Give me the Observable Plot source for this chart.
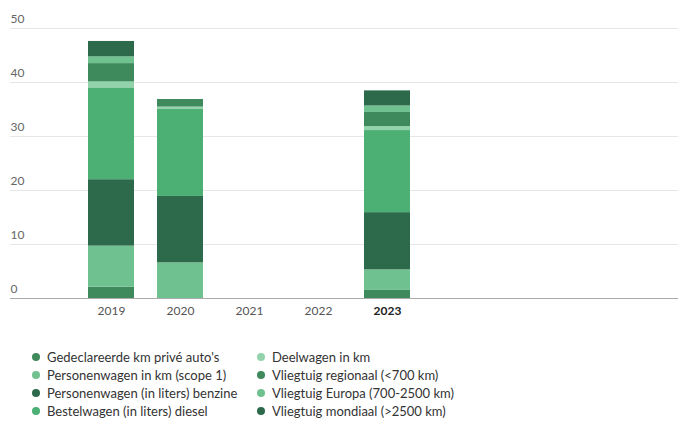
<!DOCTYPE html>
<html>
<head>
<meta charset="utf-8">
<script src="https://cdn.jsdelivr.net/npm/d3@7"></script>
<script src="https://cdn.jsdelivr.net/npm/@observablehq/plot@0.6"></script>
<style>
  body { margin: 0; background: #fff; font-family: "Lato", "Noto Sans", sans-serif; }
  #legend { display: grid; grid-template-columns: 225px 225px; grid-auto-flow: column; grid-template-rows: repeat(4, 18px); margin: 13px 0 0 32px; font-size: 13px; color: #333; }
  .item { display: flex; align-items: center; white-space: nowrap; }
  .dot { width: 8px; height: 8px; border-radius: 50%; margin-right: 7px; flex: none; }
</style>
</head>
<body>
<div id="chart"></div>
<div id="legend"></div>
<script>
const years = ["2019", "2020", "2021", "2022", "2023"];
const series = [
  "Gedeclareerde km privé auto's",
  "Personenwagen in km (scope 1)",
  "Personenwagen (in liters) benzine",
  "Bestelwagen (in liters) diesel",
  "Deelwagen in km",
  "Vliegtuig regionaal (<700 km)",
  "Vliegtuig Europa (700-2500 km)",
  "Vliegtuig mondiaal (>2500 km)"
];
const colors = ["#3e8a5d", "#6fc190", "#2d6a4b", "#4caf74", "#93d3ab", "#3e8a5d", "#6fc190", "#2d6a4b"];
const values2019 = [2.1, 7.6, 12.3, 17.0, 1.1, 3.4, 1.25, 2.85];
const values2020 = [0, 6.6, 12.3, 16.2, 0.35, 1.4, 0, 0];
const values2023 = [1.5, 3.8, 10.6, 15.2, 0.75, 2.6, 1.2, 2.8];
const yTicks = [0, 10, 20, 30, 40, 50];

const byYear = {"2019": values2019, "2020": values2020, "2023": values2023};
const data = [];
for (const [year, vals] of Object.entries(byYear)) {
  vals.forEach((v, i) => data.push({year, series: series[i], value: v}));
}

const chart = Plot.plot({
  width: 678,
  height: 335,
  marginLeft: 10,
  marginRight: 0,
  marginTop: 28,
  marginBottom: 37,
  style: {fontFamily: "Lato, 'Noto Sans', sans-serif", fontSize: "12px"},
  x: {type: "band", domain: years, range: [75, 423], paddingInner: 0.34, paddingOuter: 0.17, axis: null},
  y: {domain: [0, 50], axis: null},
  color: {domain: series, range: colors},
  marks: [
    Plot.ruleY(yTicks.filter(d => d > 0), {stroke: "#e6e6e6"}),
    Plot.text(yTicks, {y: d => d, text: d => String(d), frameAnchor: "left", textAnchor: "start", dy: -9, fill: "#666", fontSize: 12}),
    Plot.barY(data, {x: "year", y: "value", fill: "series", z: "series", order: series}),
    Plot.ruleY([0], {stroke: "#aaa"}),
    Plot.text(years.filter(y => y !== "2023"), {x: d => d, frameAnchor: "bottom", dy: 16, text: d => d, fill: "#555", fontSize: 12}),
    Plot.text(["2023"], {x: d => d, frameAnchor: "bottom", dy: 16, text: d => d, fill: "#222", fontWeight: "bold", fontSize: 12})
  ]
});
document.getElementById("chart").appendChild(chart);

const legend = document.getElementById("legend");
series.forEach((s, i) => {
  const item = document.createElement("div");
  item.className = "item";
  const dot = document.createElement("span");
  dot.className = "dot";
  dot.style.background = colors[i];
  const label = document.createElement("span");
  label.textContent = s;
  item.appendChild(dot);
  item.appendChild(label);
  legend.appendChild(item);
});
</script>
</body>
</html>
